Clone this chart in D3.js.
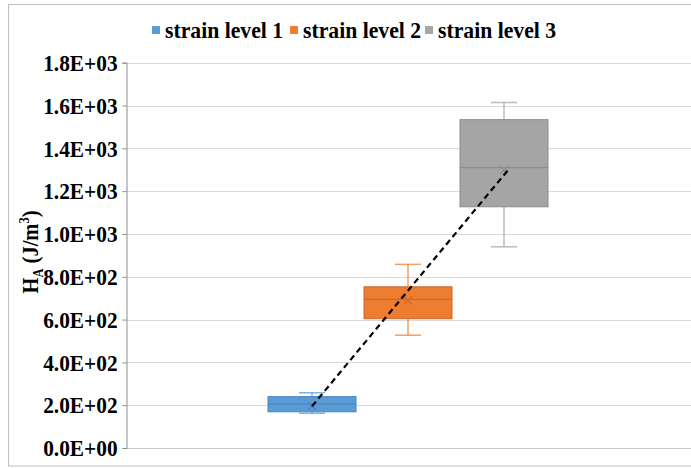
<!DOCTYPE html>
<html><head><meta charset="utf-8">
<script src="https://cdn.jsdelivr.net/npm/d3@7"></script>
<style>body{margin:0;background:#fff}svg{display:block}
text{font-family:"Liberation Serif","Times New Roman",Tinos,"DejaVu Serif",serif;font-weight:bold}</style>
</head><body>
<svg id="c" width="691" height="468"></svg>
<script>
const series = ["strain level 1", "strain level 2", "strain level 3"];
const colors = ["#5B9BD5", "#ED7D31", "#A5A5A5"];
const darkColors = ["#4A86C0", "#C9662A", "#8C8C8C"];
const minV = [162, 527, 940];
const q1V = [169, 604, 1127];
const medV = [205, 694, 1310];
const q3V = [240, 753, 1534];
const maxV = [258, 858, 1614];
const meanV = [195, 690, 1298];
const yTicks = [0, 200, 400, 600, 800, 1000, 1200, 1400, 1600, 1800];
const tickLabels = ["0.0E+00","2.0E+02","4.0E+02","6.0E+02","8.0E+02","1.0E+03","1.2E+03","1.4E+03","1.6E+03","1.8E+03"];

const svg = d3.select("#c");
const sq = 0.89; // horizontal squash of the original's text

// outer border
svg.append("rect").attr("x", 8.5).attr("y", 4.5).attr("width", 700).attr("height", 461.5)
  .attr("fill", "#fff").attr("stroke", "#bfbfbf").attr("stroke-width", 1);

const y = d3.scaleLinear().domain([0, 1800]).range([448, 62.7]);
const x = d3.scaleBand().domain(series).range([264, 552]);
const plotL = 127, plotR = 691;

// gridlines
svg.append("g").selectAll("line").data(yTicks.slice(1)).join("line")
  .attr("x1", plotL).attr("x2", plotR)
  .attr("y1", d => Math.round(y(d)) + 0.5).attr("y2", d => Math.round(y(d)) + 0.5)
  .attr("stroke", "#d9d9d9").attr("stroke-width", 1);
svg.append("line").attr("x1", plotL).attr("x2", plotR).attr("y1", 448.5).attr("y2", 448.5)
  .attr("stroke", "#c8c8c8");

// y axis
const yAxis = d3.axisLeft(y).tickValues(yTicks).tickSize(4).tickPadding(6)
  .tickFormat((d, i) => tickLabels[i]);
const ga = svg.append("g").attr("transform", "translate(126.5,0)").call(yAxis);
ga.attr("font-family", null).attr("font-size", null);
ga.select(".domain").attr("stroke", "#8c8c8c");
ga.selectAll(".tick line").attr("stroke", "#8c8c8c");
ga.selectAll("text").style("font-size", "24px").attr("fill", "#000")
  .attr("transform", `scale(${sq},1)`);

// y title
const t = svg.append("text").attr("transform", `translate(38,252) rotate(-90) scale(${sq},1)`)
  .attr("text-anchor", "middle").style("font-size", "23px").attr("fill", "#000");
t.append("tspan").text("H");
t.append("tspan").text("A").style("font-size", "14px").attr("dy", 5);
t.append("tspan").text(" (J/m").attr("dy", -5);
t.append("tspan").text("3").style("font-size", "14px").attr("dy", -9);
t.append("tspan").text(")").attr("dy", 9);

// boxes
const bw = 88, capW = 26;
series.forEach((s, i) => {
  const cx = x(s) + x.bandwidth() / 2;
  const g = svg.append("g");
  const wc = colors[i];
  g.append("line").attr("x1", cx).attr("x2", cx).attr("y1", y(maxV[i])).attr("y2", y(q3V[i]))
    .attr("stroke", wc).attr("stroke-opacity", 0.75).attr("stroke-width", 1.5);
  g.append("line").attr("x1", cx).attr("x2", cx).attr("y1", y(q1V[i])).attr("y2", y(minV[i]))
    .attr("stroke", wc).attr("stroke-opacity", 0.75).attr("stroke-width", 1.5);
  [maxV[i], minV[i]].forEach(v => {
    g.append("line").attr("x1", cx - capW / 2).attr("x2", cx + capW / 2).attr("y1", y(v)).attr("y2", y(v))
      .attr("stroke", wc).attr("stroke-opacity", 0.75).attr("stroke-width", 1.5);
  });
  g.append("rect").attr("x", cx - bw / 2).attr("y", y(q3V[i]))
    .attr("width", bw).attr("height", y(q1V[i]) - y(q3V[i]))
    .attr("fill", colors[i]).attr("stroke", darkColors[i]).attr("stroke-width", 1);
  g.append("line").attr("x1", cx - bw / 2).attr("x2", cx + bw / 2).attr("y1", y(medV[i])).attr("y2", y(medV[i]))
    .attr("stroke", darkColors[i]).attr("stroke-width", 1.2);
  const my = y(meanV[i]), r = 4;
  g.append("path").attr("d", `M${cx - r},${my - r}L${cx + r},${my + r}M${cx - r},${my + r}L${cx + r},${my - r}`)
    .attr("stroke", darkColors[i]).attr("stroke-width", 1.2).attr("fill", "none");
});

// dashed trend line between first and last means
const c0 = x(series[0]) + x.bandwidth() / 2, c2 = x(series[2]) + x.bandwidth() / 2;
svg.append("path").datum([[c0, meanV[0]], [c2 + 4, meanV[2]]])
  .attr("d", d3.line().x(d => d[0]).y(d => y(d[1])))
  .attr("stroke", "#000").attr("stroke-width", 2.2).attr("stroke-dasharray", "6,4").attr("fill", "none");

// legend
const legendX = [152, 290, 425];
const lg = svg.append("g");
series.forEach((s, i) => {
  lg.append("rect").attr("x", legendX[i]).attr("y", 26).attr("width", 8).attr("height", 8).attr("fill", colors[i]);
  lg.append("text").attr("transform", `translate(${legendX[i] + 13},38) scale(0.905,1)`).text(s)
    .style("font-size", "24px").attr("fill", "#000");
});
</script>
</body></html>
